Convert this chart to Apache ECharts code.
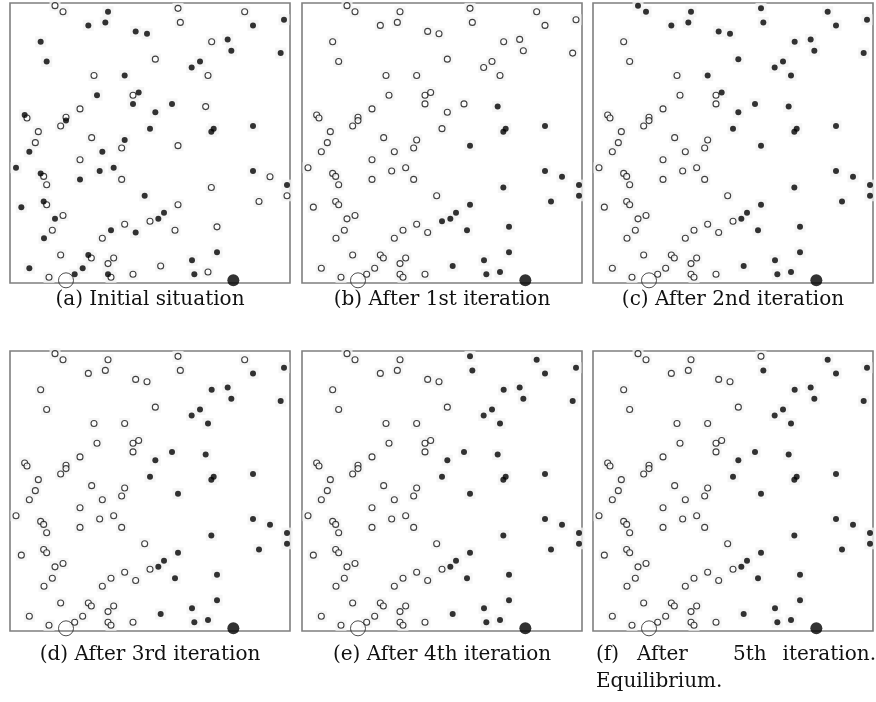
<!DOCTYPE html>
<html>
<head>
    <meta charset="utf-8">
    <title>Iterations to equilibrium</title>
    <script src="https://cdn.jsdelivr.net/npm/echarts@6.0.0/dist/echarts.min.js"></script>
    <style>
        body { margin: 0; padding: 0; background: #fff; }
        #chart { width: 876px; height: 702px; }
    </style>
</head>
<body>
    <div id="chart"></div>
    <script>
        // point positions (same in every panel), units of an 840 x 838 square, y grows downwards
        const ptX = [147, 171, 306, 516, 716, 834, 247, 298, 523, 741,
                     389, 423, 104, 617, 665, 676, 824, 122, 448, 582,
                     557, 264, 356, 606, 273, 381, 398, 381, 498, 599,
                     222, 448, 56, 63, 180, 180, 164, 432, 616, 623,
                     741, 97, 257, 356, 88, 347, 516, 70, 289, 222,
                     30, 104, 113, 281, 323, 741, 792, 122, 222, 347,
                     843, 616, 416, 843, 113, 122, 46, 759, 516, 171,
                     147, 474, 457, 432, 356, 315, 389, 139, 507, 633,
                     289, 114, 633, 164, 247, 256, 323, 306, 558, 70,
                     230, 464, 306, 315, 381, 206, 129, 565, 606];
        const ptY = [18, 36, 36, 26, 36, 60, 77, 68, 68, 77,
                     95, 102, 126, 126, 119, 153, 160, 185, 178, 185,
                     203, 227, 227, 227, 286, 286, 278, 312, 312, 320,
                     327, 337, 345, 354, 352, 362, 378, 386, 395, 386,
                     378, 395, 413, 420, 428, 444, 437, 455, 455, 479,
                     503, 520, 529, 513, 503, 513, 530, 554, 538, 538,
                     555, 562, 587, 587, 604, 614, 621, 604, 614, 646,
                     656, 638, 656, 663, 672, 690, 697, 690, 690, 680,
                     714, 714, 756, 764, 764, 773, 773, 790, 780, 804,
                     804, 797, 822, 831, 822, 822, 831, 822, 815];

        // the two large markers
        const bigHollow = [180, 840];
        const bigFilled = [682, 840];

        // ids (1-based) of the filled points in each panel
        const filledA = [3, 6, 7, 8, 10, 11, 12, 13, 15, 16, 17, 18, 20, 21, 23, 25, 27, 28, 29, 32,
                         33, 36, 38, 39, 40, 41, 44, 48, 49, 51, 52, 54, 55, 56, 59, 61, 63, 65, 67, 71,
                         72, 73, 76, 77, 82, 83, 85, 89, 90, 91, 93, 96, 98];
        const filledB = [30, 39, 40, 41, 47, 56, 57, 61, 62, 64, 68, 69, 72, 73, 74, 79, 80, 83, 89, 92, 98, 99];
        const filledC = [1, 2, 3, 4, 5, 6, 7, 8, 9, 10, 11, 12, 14, 15, 16, 17, 19, 20, 21, 23, 24, 27, 29, 30,
                         32, 38, 39, 40, 41, 47, 56, 57, 61, 62, 64, 68, 69, 72, 73, 79, 80, 83, 89, 92, 98, 99];
        const filledD = [6, 10, 14, 15, 16, 17, 20, 21, 24, 29, 30, 32, 38, 39, 40, 41, 47, 56, 57, 61, 62,
                         64, 68, 69, 72, 73, 79, 80, 83, 89, 92, 98, 99];
        const filledE = [4, 5, 9].concat(filledD);
        const filledF = [5, 9].concat(filledD);

        const captions = ['(a) Initial situation', '(b) After 1st iteration', '(c) After 2nd iteration',
                          '(d) After 3rd iteration', '(e) After 4th iteration'];
        const captionF = ['(f)', 'After', '5th', 'iteration.'];
        const captionF2 = 'Equilibrium.';

        const panels = [filledA, filledB, filledC, filledD, filledE, filledF];
        const boxes = [
            { left: 10, top: 3 }, { left: 302, top: 3 }, { left: 593, top: 3 },
            { left: 10, top: 351 }, { left: 302, top: 351 }, { left: 593, top: 351 }
        ];
        const boxSize = 280;

        const chart = echarts.init(document.getElementById('chart'));

        const grid = [], xAxis = [], yAxis = [], series = [];
        panels.forEach((filled, p) => {
            grid.push({
                left: boxes[p].left, top: boxes[p].top, width: boxSize, height: boxSize,
                show: true, borderColor: '#7f7f7f', borderWidth: 1.6, backgroundColor: '#fff'
            });
            xAxis.push({ gridIndex: p, type: 'value', min: 12, max: 852, show: false });
            yAxis.push({ gridIndex: p, type: 'value', min: 10, max: 848, inverse: true, show: false });

            const set = new Set(filled);
            const all = [], on = [], off = [];
            ptX.forEach((x, i) => {
                all.push([x, ptY[i]]);
                (set.has(i + 1) ? on : off).push([x, ptY[i]]);
            });
            const base = { type: 'scatter', xAxisIndex: p, yAxisIndex: p, silent: true, clip: false,
                           animation: false };
            // faint grey smudge behind every mark
            series.push(Object.assign({}, base, {
                data: all, symbol: 'rect', symbolSize: 11, z: 1,
                itemStyle: { color: '#f2f2f2' }
            }));
            series.push(Object.assign({}, base, {
                data: off, symbol: 'circle', symbolSize: 6, z: 3,
                itemStyle: { color: '#fff', borderColor: '#111', borderWidth: 1.1 }
            }));
            series.push(Object.assign({}, base, {
                data: on, symbol: 'circle', symbolSize: 6, z: 4,
                itemStyle: { color: '#000' }
            }));
            series.push(Object.assign({}, base, {
                data: [bigHollow], symbol: 'circle', symbolSize: 15, z: 5,
                itemStyle: { color: 'rgba(0,0,0,0)', borderColor: '#222', borderWidth: 1 }
            }));
            series.push(Object.assign({}, base, {
                data: [bigFilled], symbol: 'circle', symbolSize: 12, z: 5,
                itemStyle: { color: '#000' }
            }));
        });

        const font = { fontFamily: 'DejaVu Serif', fontSize: 20, fill: '#111' };
        const graphic = [];
        captions.forEach((c, i) => {
            const b = boxes[i];
            graphic.push({
                type: 'text', x: b.left + boxSize / 2, y: i < 3 ? 300 : 655,
                style: Object.assign({ text: c, align: 'center', verticalAlign: 'middle' }, font)
            });
        });
        const fx = [596, 637, 733, 876];
        captionF.forEach((w, i) => {
            graphic.push({
                type: 'text', x: fx[i], y: 655,
                style: Object.assign({ text: w, align: i === 3 ? 'right' : 'left', verticalAlign: 'middle' }, font)
            });
        });
        graphic.push({
            type: 'text', x: 596, y: 682,
            style: Object.assign({ text: captionF2, align: 'left', verticalAlign: 'middle' }, font)
        });

        chart.setOption({
            backgroundColor: '#fff',
            animation: false,
            grid: grid,
            xAxis: xAxis,
            yAxis: yAxis,
            series: series,
            graphic: graphic
        });
        window.addEventListener('resize', () => chart.resize());
    </script>
</body>
</html>
